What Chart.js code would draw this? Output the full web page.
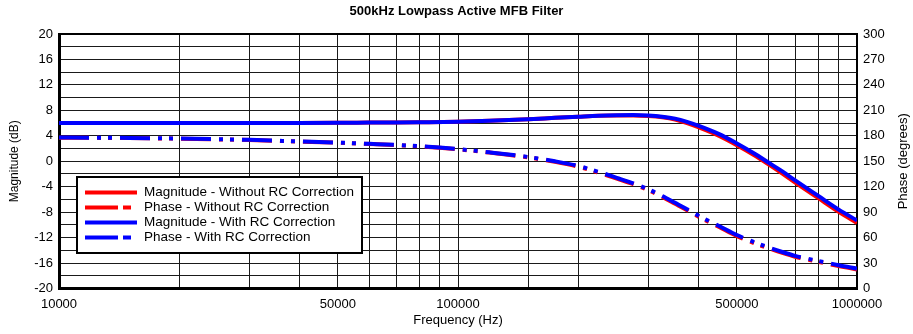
<!DOCTYPE html>
<html>
<head>
<meta charset="utf-8">
<script src="https://cdn.jsdelivr.net/npm/chart.js@4.4.1/dist/chart.umd.min.js"></script>
<style>
  body { margin: 0; background: #fff; }
  #wrap { width: 913px; height: 334px; position: relative; }
</style>
</head>
<body>
<div id="wrap"><canvas id="mainChart"></canvas></div>
<script>
// Frequency points (Hz)
const freqs = [10000, 12000, 15000, 20000, 25000, 30000, 40000, 50000, 60000, 70000, 80000,
    100000, 120000, 150000, 175000, 200000, 225000, 250000, 275000, 300000, 325000, 350000,
    375000, 400000, 450000, 500000, 550000, 600000, 650000, 700000, 800000, 900000, 1000000];

// Magnitude (dB)
const magWithout = [6.0, 6.0, 6.0, 6.0, 6.0, 6.02, 6.03, 6.05, 6.08, 6.1, 6.13,
    6.2, 6.35, 6.6, 6.82, 7.0, 7.15, 7.2, 7.2, 7.1, 6.9, 6.55,
    6.0, 5.35, 4.0, 2.5, 1.0, -0.5, -1.95, -3.35, -5.8, -7.95, -9.7];
const magWith = [6.0, 6.0, 6.0, 6.0, 6.0, 6.02, 6.03, 6.05, 6.08, 6.1, 6.13,
    6.2, 6.35, 6.6, 6.82, 7.0, 7.15, 7.22, 7.25, 7.18, 7.0, 6.7,
    6.2, 5.6, 4.3, 2.8, 1.3, -0.2, -1.6, -3.0, -5.45, -7.6, -9.3];

// Phase (degrees)
const phaseWithout = [177.8, 177.6, 177.3, 176.6, 175.8, 175.0, 173.2, 171.8, 170.3, 169.0, 167.6,
    164.0, 160.2, 154.5, 149.3, 143.6, 136.5, 129.4, 122.9, 115.8, 107.8, 99.8,
    92.3, 84.8, 72.8, 61.8, 53.8, 47.4, 41.9, 37.4, 31.4, 26.4, 22.4];
const phaseWith = [178.0, 177.8, 177.5, 176.8, 176.0, 175.2, 173.4, 172.0, 170.5, 169.2, 167.8,
    164.3, 160.5, 155.0, 150.0, 144.5, 137.5, 130.5, 124.0, 117.0, 109.0, 101.0,
    93.5, 86.0, 74.0, 63.0, 55.0, 48.5, 43.0, 38.5, 32.5, 27.5, 23.5];

const xLabels = [10000, 50000, 100000, 500000, 1000000];
const seriesNames = ['Magnitude - Without RC Correction', 'Phase - Without RC Correction',
    'Magnitude - With RC Correction', 'Phase - With RC Correction'];

const pts = (ys) => freqs.map((f, i) => ({ x: f, y: ys[i] }));
const dashDotDot = [30, 8, 4, 7, 4, 8];
const FONT = "'Liberation Sans', Arial, sans-serif";

// Legend box drawn inside the plot, plus the right axis title and top frame line
const extras = {
    id: 'extras',
    beforeDatasetsDraw(chart) {
        const { ctx, chartArea: a } = chart;
        ctx.save();
        ctx.strokeStyle = '#000';
        ctx.lineWidth = 2;
        ctx.beginPath();
        ctx.moveTo(a.left, a.top);
        ctx.lineTo(a.right, a.top);
        ctx.lineTo(a.right, a.bottom);
        ctx.stroke();
        ctx.restore();
    },
    afterDraw(chart) {
        const { ctx, chartArea: a } = chart;
        ctx.save();
        // legend
        const lx = a.left + 18, ly = 177, lw = 285, lh = 76;
        ctx.fillStyle = '#fff';
        ctx.fillRect(lx, ly, lw, lh);
        ctx.strokeStyle = '#000';
        ctx.lineWidth = 2;
        ctx.strokeRect(lx, ly, lw, lh);
        const colors = ['#ff0000', '#ff0000', '#0000ff', '#0000ff'];
        ctx.font = '13.5px ' + FONT;
        ctx.textBaseline = 'middle';
        seriesNames.forEach((name, i) => {
            const y = ly + 15.5 + i * 15;
            ctx.strokeStyle = colors[i];
            ctx.lineWidth = 4;
            ctx.lineCap = 'butt';
            ctx.setLineDash(i % 2 ? [33, 5, 8, 100] : []);
            ctx.beginPath();
            ctx.moveTo(lx + 8, y);
            ctx.lineTo(lx + 60, y);
            ctx.stroke();
            ctx.setLineDash([]);
            ctx.fillStyle = '#000';
            ctx.fillText(name, lx + 67, y);
        });
        // right axis title
        ctx.translate(903, (a.top + a.bottom) / 2);
        ctx.rotate(-Math.PI / 2);
        ctx.textAlign = 'center';
        ctx.font = '13px ' + FONT;
        ctx.fillStyle = '#000';
        ctx.fillText('Phase (degrees)', 0, 0);
        ctx.restore();
    }
};

const ctx = document.getElementById('mainChart').getContext('2d');
const myChart = new Chart(ctx, {
    type: 'line',
    data: {
        datasets: [
            { label: seriesNames[0], data: pts(magWithout), yAxisID: 'y', borderColor: '#ff0000', borderWidth: 4, order: 2 },
            { label: seriesNames[1], data: pts(phaseWithout), yAxisID: 'y1', borderColor: '#ff0000', borderWidth: 4, borderDash: dashDotDot, order: 2 },
            { label: seriesNames[2], data: pts(magWith), yAxisID: 'y', borderColor: '#0000ff', borderWidth: 4, order: 1 },
            { label: seriesNames[3], data: pts(phaseWith), yAxisID: 'y1', borderColor: '#0000ff', borderWidth: 4, borderDash: dashDotDot, order: 1 }
        ]
    },
    options: {
        responsive: true,
        maintainAspectRatio: false,
        animation: false,
        layout: { padding: 0 },
        elements: {
            point: { radius: 0 },
            line: { cubicInterpolationMode: 'monotone', borderCapStyle: 'butt', fill: false }
        },
        plugins: {
            legend: { display: false },
            tooltip: { enabled: false },
            title: {
                display: true,
                text: '500kHz Lowpass Active MFB Filter',
                color: '#000',
                font: { family: FONT, size: 13, weight: 'bold' },
                padding: { top: 4, bottom: 14.4 }
            }
        },
        scales: {
            x: {
                type: 'logarithmic',
                min: 10000,
                max: 1000000,
                afterFit: (s) => { s.height = 45.5; },
                grid: { color: '#1a1a1a', lineWidth: 1, drawTicks: false },
                border: { color: '#000', width: 3 },
                ticks: {
                    autoSkip: false, maxRotation: 0, minRotation: 0, padding: 8,
                    color: '#000', font: { family: FONT, size: 13 },
                    callback: (v) => xLabels.includes(v) ? String(v) : ''
                },
                title: { display: true, text: 'Frequency (Hz)', color: '#000', font: { family: FONT, size: 13 }, padding: { top: 0, bottom: 6 } }
            },
            y: {
                position: 'left',
                min: -20,
                max: 20,
                afterFit: (s) => { s.width = 59; },
                grid: { color: '#1a1a1a', lineWidth: 1, drawTicks: false },
                border: { color: '#000', width: 3 },
                ticks: {
                    autoSkip: false, stepSize: 2, padding: 6, color: '#000', font: { family: FONT, size: 13 },
                    callback: (v) => v % 4 === 0 ? v : ''
                },
                title: { display: true, text: 'Magnitude (dB)', color: '#000', font: { family: FONT, size: 12 }, padding: { top: 7, bottom: 0 } }
            },
            y1: {
                position: 'right',
                min: 0,
                max: 300,
                afterFit: (s) => { s.width = 56; },
                grid: { display: false, drawTicks: false },
                border: { color: '#000', width: 2 },
                ticks: { autoSkip: false, stepSize: 30, padding: 6, color: '#000', font: { family: FONT, size: 13 } }
            }
        }
    },
    plugins: [extras]
});
</script>
</body>
</html>
